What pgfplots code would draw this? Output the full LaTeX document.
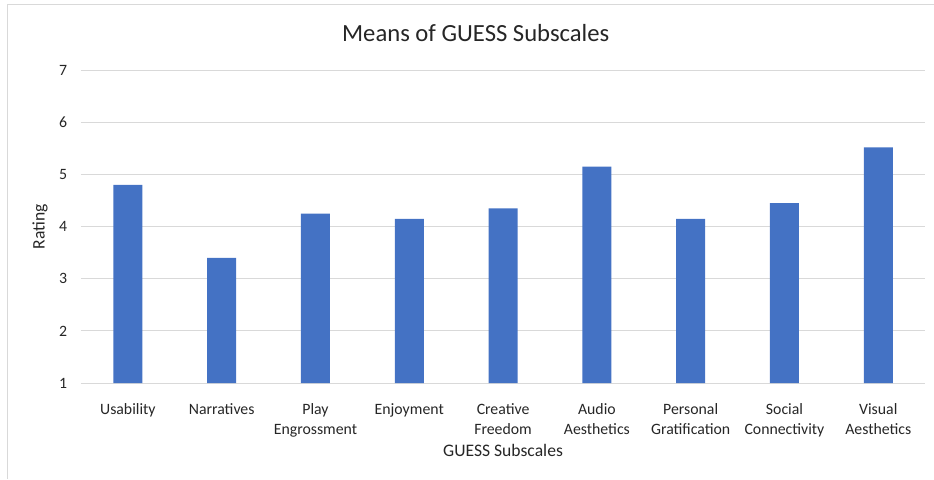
\documentclass[border=0pt]{standalone}
\usepackage{fontspec}
\setmainfont{Carlito}
\usepackage{pgfplots}
\pgfplotsset{compat=1.18}
\definecolor{barblue}{HTML}{4472C4}
\definecolor{gridgray}{HTML}{D9D9D9}
\definecolor{txt}{HTML}{262626}
\begin{document}
\begin{tikzpicture}
% page size and chart frame
\path (0,0) rectangle (700.5pt,359.25pt);
\draw[gridgray, line width=0.75pt] (6pt,0) -- (6pt,356pt) -- (700.5pt,356pt);
\node[font=\fontsize{18.5}{22}\selectfont, text=txt] at (357pt,334.5pt) {Means of GUESS Subscales};
\begin{axis}[
  at={(60.75pt,71.8pt)}, anchor=south west,
  scale only axis, width=633.5pt, height=234.75pt,
  ybar, bar width=21.75pt,
  xmin=-0.5, xmax=8.5, ymin=1, ymax=7,
  ytick={1,2,3,4,5,6,7},
  xtick=data,
  xticklabels={Usability, Narratives, Play\\Engrossment, Enjoyment, Creative\\Freedom,
    Audio\\Aesthetics, Personal\\Gratification, Social\\Connectivity, Visual\\Aesthetics},
  axis line style={draw=none},
  major tick style={draw=none},
  ymajorgrids, grid style={gridgray, line width=0.75pt},
  /pgf/number format/assume math mode=true,
  ticklabel style={text=txt, font=\fontsize{11.85}{15}\selectfont},
  xticklabel style={align=center, yshift=-7.3pt},
  yticklabel style={xshift=-6.75pt},
  xlabel={GUESS Subscales},
  ylabel={Rating},
  label style={text=txt, font=\fontsize{13.2}{16}\selectfont},
  xlabel style={at={(axis description cs:0.5,-0.216)}, anchor=center},
  ylabel style={at={(axis description cs:-0.0485,0.5)}, anchor=center},
]
\addplot[fill=barblue, draw=none] coordinates {
  (0,4.80) (1,3.40) (2,4.25) (3,4.15) (4,4.35)
  (5,5.15) (6,4.15) (7,4.45) (8,5.52)
};
\end{axis}
\end{tikzpicture}
\end{document}
